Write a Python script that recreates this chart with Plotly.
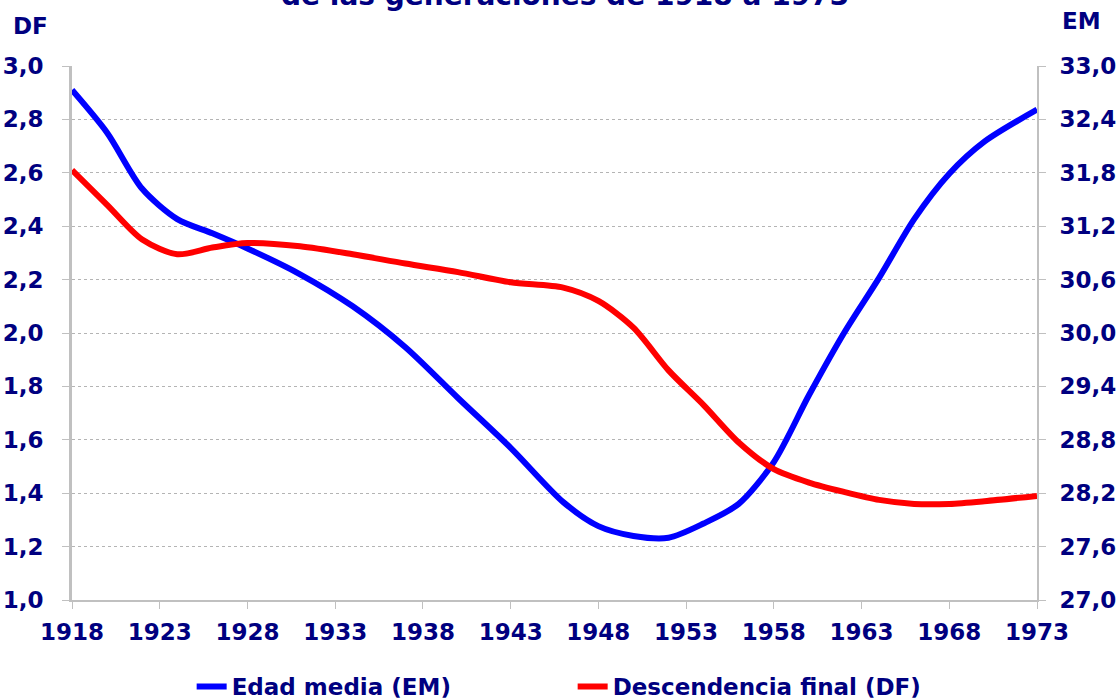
import plotly.graph_objects as go

years = [1918, 1920, 1922, 1924, 1926, 1928, 1931, 1934, 1937, 1940, 1943, 1946,
         1948, 1950, 1952, 1954, 1956, 1958, 1960, 1962, 1964, 1966, 1968, 1970, 1973]
em_values = [32.73, 32.25, 31.62, 31.28, 31.12, 30.95, 30.66, 30.30, 29.84, 29.27,
             28.71, 28.10, 27.83, 27.72, 27.70, 27.86, 28.08, 28.55, 29.30, 30.00,
             30.62, 31.28, 31.79, 32.15, 32.51]
df_values = [2.61, 2.48, 2.35, 2.295, 2.32, 2.337, 2.325, 2.295, 2.26, 2.228,
             2.19, 2.17, 2.12, 2.02, 1.86, 1.73, 1.59, 1.49, 1.44, 1.405,
             1.375, 1.36, 1.36, 1.37, 1.39]
x_ticks = list(range(1918, 1974, 5))

NAVY = "#000080"
FONT = "Verdana, DejaVu Sans, sans-serif"

fig = go.Figure()
fig.add_trace(go.Scatter(x=years, y=em_values, name="Edad media (EM)", mode="lines",
                         line=dict(color="#0000FF", width=6, shape="spline", smoothing=0.8),
                         yaxis="y"))
fig.add_trace(go.Scatter(x=years, y=df_values, name="Descendencia final (DF)", mode="lines",
                         line=dict(color="#FF0000", width=6, shape="spline", smoothing=0.8),
                         yaxis="y2"))

tickfont = dict(family=FONT, size=23, color=NAVY, weight="bold")

fig.update_layout(
    width=1119, height=700,
    margin=dict(l=72, r=82, t=66, b=100, autoexpand=False),
    paper_bgcolor="white", plot_bgcolor="white",
    separators=",.",
    showlegend=True,
    legend=dict(orientation="h", x=0.124, xanchor="left", y=-0.162, yanchor="middle",
                font=dict(family=FONT, size=23, color=NAVY, weight="bold"),
                entrywidth=336, traceorder="normal"),
    xaxis=dict(range=[1918, 1973], tickmode="array", tickvals=x_ticks,
               ticks="outside", ticklen=7, tickcolor="#c0c0c0",
               showline=True, linecolor="#c0c0c0", linewidth=2,
               showgrid=False, zeroline=False, tickfont=tickfont,
               ticklabelstandoff=3, automargin=False),
    yaxis=dict(range=[27, 33], dtick=0.6, tick0=27, tickformat=".1f", side="right",
               ticks="outside", ticklen=7, tickcolor="#c0c0c0",
               showline=True, linecolor="#c0c0c0", linewidth=2,
               showgrid=False, zeroline=False, tickfont=tickfont,
               ticklabelstandoff=9, automargin=False),
    yaxis2=dict(range=[1, 3], dtick=0.2, tick0=1, tickformat=".1f", side="left",
                overlaying="y", anchor="x",
                ticks="outside", ticklen=7, tickcolor="#c0c0c0",
                showline=True, linecolor="#c0c0c0", linewidth=3,
                showgrid=True, gridcolor="#b4b4b4", griddash="dot", gridwidth=1,
                zeroline=False, tickfont=tickfont, ticklabelstandoff=14,
                automargin=False),
    annotations=[
        dict(text="de las generaciones de 1918 a 1973", xref="paper", yref="paper",
             x=(565 - 72) / 965, y=1.097, xanchor="center", yanchor="bottom", showarrow=False,
             font=dict(family=FONT, size=28, color=NAVY, weight="bold")),
        dict(text="DF", xref="paper", yref="paper", x=-0.0425, y=1.0758,
             xanchor="center", yanchor="middle", showarrow=False,
             font=dict(family=FONT, size=23, color=NAVY, weight="bold")),
        dict(text="EM", xref="paper", yref="paper", x=1.046, y=1.084,
             xanchor="center", yanchor="middle", showarrow=False,
             font=dict(family=FONT, size=23, color=NAVY, weight="bold")),
    ],
)

fig.write_html("out.html", config={"displayModeBar": False},
               post_script="document.body.style.margin='0';document.body.style.overflow='hidden';")
